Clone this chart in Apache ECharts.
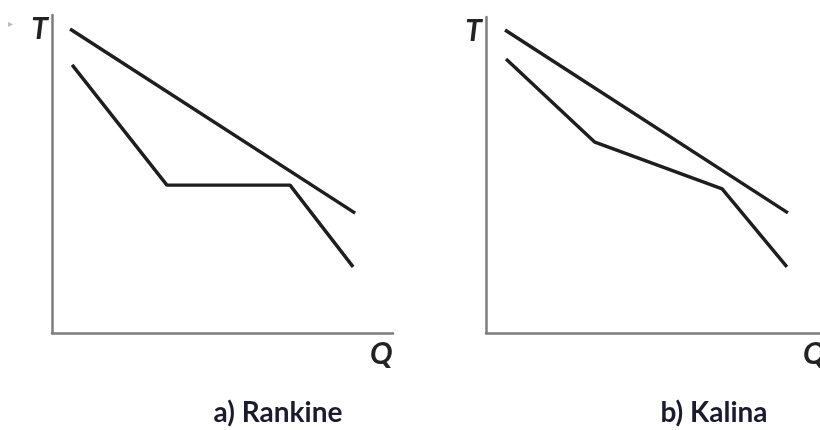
<!DOCTYPE html>
<html>
<head>
<meta charset="utf-8">
<script src="https://cdn.jsdelivr.net/npm/echarts@6/dist/echarts.min.js"></script>
<style>
  html, body { margin: 0; padding: 0; background: #fff; }
  #chart { width: 820px; height: 430px; }
</style>
</head>
<body>
<div id="chart"></div>
<script>
// T-Q diagrams, values in percent of each axis length
var rankineHot = [[5.3, 95.6], [88.9, 37.7]];
var rankineCold = [[5.9, 84.3], [33.7, 46.5], [69.8, 46.5], [88.3, 20.8]];
var kalinaHot = [[5.7, 95.9], [90.4, 38.0]];
var kalinaCold = [[6.0, 86.7], [32.6, 60.4], [70.7, 45.6], [90.1, 20.9]];
var captions = ['a) Rankine', 'b) Kalina'];
var axisNames = ['T', 'Q'];

var chart = echarts.init(document.getElementById('chart'));

var lineColor = '#1e1e1e';
var axisColor = '#7c7c7c';

var nameStyle = {
    fontFamily: 'Lato',
    fontStyle: 'italic',
    fontWeight: 'bold',
    fontSize: 30,
    color: '#222'
};

function xAxisFor(idx, gap) {
    return {
        type: 'value',
        gridIndex: idx,
        min: 0,
        max: 100,
        name: axisNames[1],
        nameLocation: 'end',
        nameGap: gap,
        nameTextStyle: Object.assign({ verticalAlign: 'top', padding: [6, 0, 0, 0] }, nameStyle),
        axisLine: { show: true, lineStyle: { color: axisColor, width: 2.5 } },
        axisTick: { show: false },
        axisLabel: { show: false },
        splitLine: { show: false }
    };
}

function yAxisFor(idx) {
    return {
        type: 'value',
        gridIndex: idx,
        min: 0,
        max: 100,
        name: axisNames[0],
        nameLocation: 'end',
        nameGap: -29,
        nameTextStyle: Object.assign({ align: 'right', padding: [0, 4, 0, 0] }, nameStyle),
        axisLine: { show: true, lineStyle: { color: axisColor, width: 2.5 } },
        axisTick: { show: false },
        axisLabel: { show: false },
        splitLine: { show: false }
    };
}

function lineSeries(idx, data) {
    return {
        type: 'line',
        xAxisIndex: idx,
        yAxisIndex: idx,
        data: data,
        symbol: 'none',
        silent: true,
        lineStyle: { color: lineColor, width: 3.4 }
    };
}

var captionStyle = {
    fontFamily: 'Lato',
    fontWeight: 'bold',
    fontSize: 28,
    color: '#1b1b2f'
};

chart.setOption({
    animation: false,
    backgroundColor: '#fff',
    title: [
        { text: captions[0], left: 278, top: 399, textAlign: 'center', padding: 0, textStyle: captionStyle },
        { text: captions[1], left: 714, top: 399, textAlign: 'center', padding: 0, textStyle: captionStyle }
    ],
    graphic: [{
        type: 'text',
        left: 8,
        top: 19,
        style: { text: '\u25B8', fontSize: 10, fill: '#bbb' }
    }],
    grid: [
        { left: 52, top: 15, width: 341, height: 318, outerBoundsMode: 'none' },
        { left: 486, top: 17, width: 334, height: 316, outerBoundsMode: 'none' }
    ],
    xAxis: [xAxisFor(0, -23), xAxisFor(1, -17)],
    yAxis: [yAxisFor(0), yAxisFor(1)],
    series: [
        lineSeries(0, rankineHot),
        lineSeries(0, rankineCold),
        lineSeries(1, kalinaHot),
        lineSeries(1, kalinaCold)
    ]
});
</script>
</body>
</html>
